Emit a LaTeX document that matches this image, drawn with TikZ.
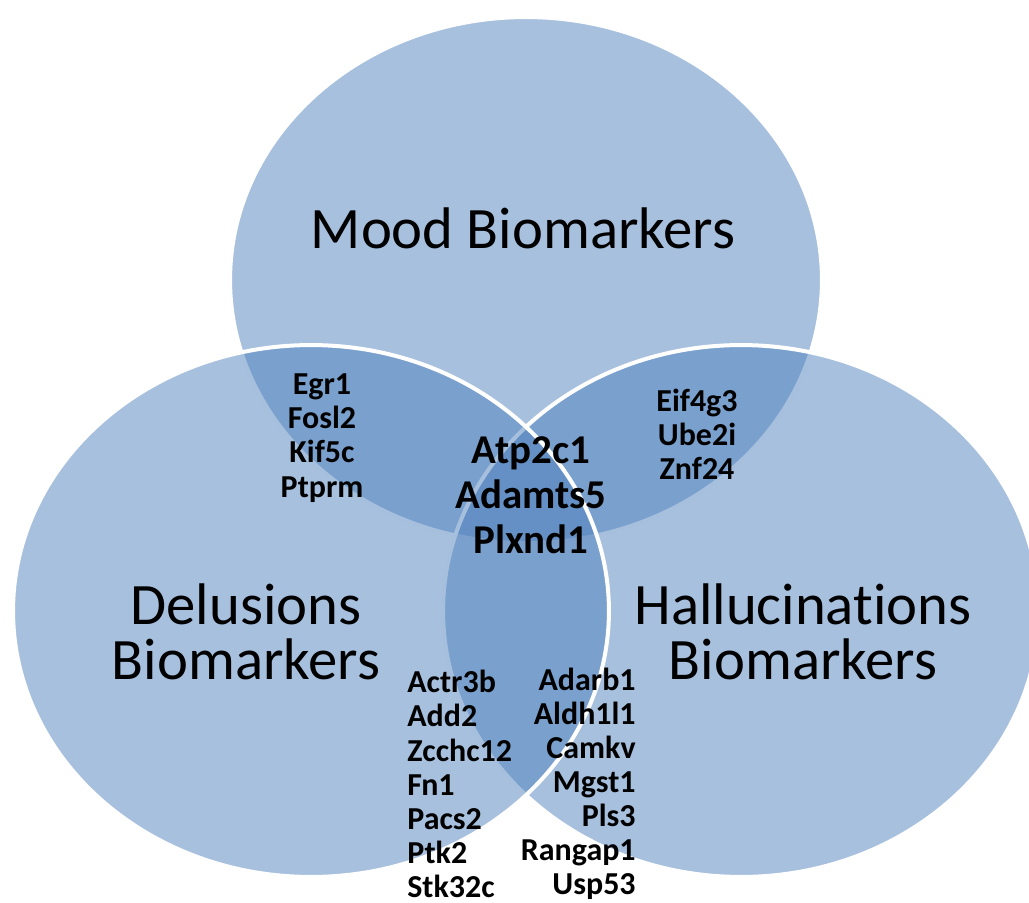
\documentclass[tikz,border=0pt]{standalone}
\usepackage{fontspec}
\setmainfont{Carlito}[Ligatures=NoCommon]
\usepackage{tikz}
\usetikzlibrary{positioning}
\usepackage{xcolor}
\definecolor{vennblue}{HTML}{4F81BD}
\tikzset{%
	vennset/.style={
		fill=vennblue,
		fill opacity=0.5,
		draw=white,
		line width=0.08cm
	},
	setlabel/.style={
		inner sep=0pt,
		align=center,
		font=\fontsize{33.4}{31.3}\selectfont
	},
	genelist/.style={
		inner sep=0pt,
		font=\fontsize{18.2}{19.4}\selectfont\bfseries
	},
	corelist/.style={
		inner sep=0pt,
		align=center,
		font=\fontsize{23.3}{25.6}\selectfont\bfseries
	},
}

\begin{document}
\begin{tikzpicture}[x=0.02cm, y=-0.02cm]
	\useasboundingbox (0,0) rectangle (1029,903);
	\clip (0,0) rectangle (1029,903);
	
	% The three sets
	\draw[vennset] (526,280) ellipse [x radius=5.92cm, y radius=5.26cm];
	\draw[vennset] (741,611) ellipse [x radius=5.96cm, y radius=5.32cm];
	\draw[vennset] (311,611) ellipse [x radius=5.96cm, y radius=5.32cm];
	
	% Set names
	\node[setlabel] (mood) at (523,228) {Mood Biomarkers};
	\node[setlabel] (delus) at (246,632) {Delusions\\Biomarkers};
	\node[setlabel] (halluc) at (803,632) {Hallucinations\\Biomarkers};
	
	% Shared genes
	\node[genelist, align=center] (mooddelus) at (322,438) {Egr1\\Fosl2\\Kif5c\\Ptprm};
	\node[genelist, align=center] (moodhalluc) at (697,434) {Eif4g3\\Ube2i\\Znf24};
	\node[corelist] (core) at (531,495) {Atp2c1\\Adamts5\\Plxnd1};
	\node[genelist, align=left, anchor=west] (delushalluc) at (407,784)
		{Actr3b\\Add2\\Zcchc12\\Fn1\\Pacs2\\Ptk2\\Stk32c};
	\node[genelist, align=right, anchor=east] (hallucdelus) at (636,784)
		{Adarb1\\Aldh1l1\\Camkv\\Mgst1\\Pls3\\Rangap1\\Usp53};
	
\end{tikzpicture}
\end{document}
